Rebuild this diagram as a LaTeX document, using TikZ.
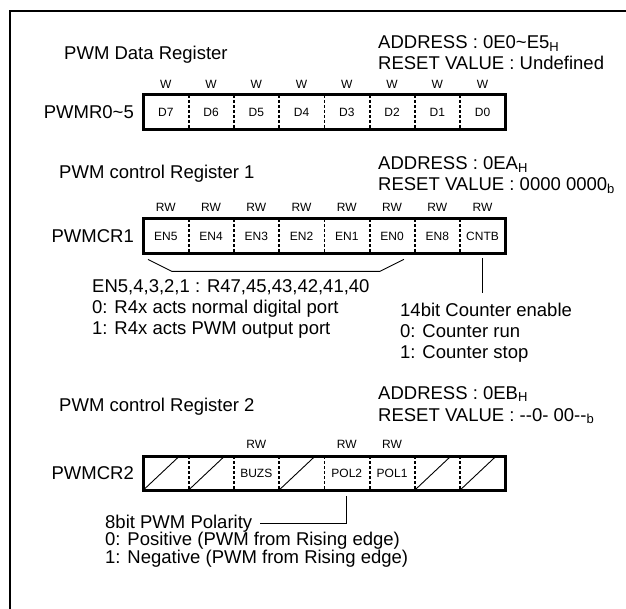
\documentclass[tikz,border=0pt]{standalone}
\usepackage{fontspec}
\setmainfont{Liberation Sans}
\usetikzlibrary{calc}
\tikzset{
  bigtext/.style={font=\fontsize{18.5}{21}\selectfont, inner sep=0pt, anchor=base west},
  smalltext/.style={font=\fontsize{12}{14}\selectfont, inner sep=0pt},
  cell/.style={smalltext, minimum width=45.25pt, minimum height=34pt, anchor=north west},
  regbox/.style={line width=3pt},
  bitsep/.style={line width=1.8pt, dash pattern=on 3pt off 2pt},
  thinline/.style={line width=0.9pt}
}
\newcommand{\regsub}[1]{\raisebox{-0.3ex}{\fontsize{13}{13}\selectfont #1}}
\begin{document}
\begin{tikzpicture}[x=1pt,y=-1pt]
\useasboundingbox (0,0) rectangle (626,609);
\draw[line width=2.5pt] (10,612) -- (10,11) -- (629,11);
% PWM data register
\node[bigtext] (title1) at (64,59.5) {PWM Data Register};
\node[bigtext] (addr1) at (378,48.5) {ADDRESS : 0E0\textasciitilde E5\regsub{H}};
\node[bigtext] (reset1) at (378,69.5) {RESET VALUE : Undefined};
\foreach \t [count=\k from 0] in {D7,D6,D5,D4,D3,D2,D1,D0} {
  \node[cell] (r1c\k) at (143+45.25*\k,95) {\t};
  \node[smalltext, anchor=base] (r1w\k) at ($(r1c\k.north)+(0,-6.7)$) {W};
}
\foreach \k in {0,...,6} \draw[bitsep] (r1c\k.north east) -- (r1c\k.south east);
\draw[regbox] (r1c0.north west) rectangle (r1c7.south east);
\node[bigtext, anchor=base east] (reg1) at (134,118.5) {PWMR0\textasciitilde 5};
% PWM control register 1
\node[bigtext] (title2) at (59,178.5) {PWM control Register 1};
\node[bigtext] (addr2) at (378,169.5) {ADDRESS : 0EA\regsub{H}};
\node[bigtext] (reset2) at (378,190.5) {RESET VALUE : 0000 0000\regsub{b}};
\foreach \t [count=\k from 0] in {EN5,EN4,EN3,EN2,EN1,EN0,EN8,CNTB} {
  \node[cell] (r2c\k) at (143+45.25*\k,219) {\t};
  \node[smalltext, anchor=base] (r2w\k) at ($(r2c\k.north)+(0,-7.7)$) {RW};
}
\foreach \k in {0,...,6} \draw[bitsep] (r2c\k.north east) -- (r2c\k.south east);
\draw[regbox] (r2c0.north west) rectangle (r2c7.south east);
\node[bigtext, anchor=base east] (reg2) at (134,242.5) {PWMCR1};
\draw[thinline] ([xshift=5pt,yshift=-6pt]r2c0.south west) -- ([xshift=29pt,yshift=-18pt]r2c0.south west)
  -- ([xshift=-35pt,yshift=-18pt]r2c5.south east) -- ([xshift=-11pt,yshift=-6pt]r2c5.south east);
\node[bigtext, align=left, anchor=north west] (enpins) at (92,279) {EN5,4,3,2,1 : R47,45,43,42,41,40\\0: R4x acts normal digital port\\1: R4x acts PWM output port};
\coordinate (cntbend) at ([yshift=-40pt]r2c7.south);
\draw[thinline] ([yshift=-5pt]r2c7.south) -- (cntbend);
\node[bigtext, align=left, anchor=north west] (counter) at (400,303) {14bit Counter enable\\0: Counter run\\1: Counter stop};
% PWM control register 2
\node[bigtext] (title3) at (59,411.5) {PWM control Register 2};
\node[bigtext] (addr3) at (378,399) {ADDRESS : 0EB\regsub{H}};
\node[bigtext] (reset3) at (378,421) {RESET VALUE : -\kern0pt-0- 00-\kern0pt-\regsub{b}};
\foreach \t [count=\k from 0] in {,,BUZS,,POL2,POL1,,} {
  \node[cell] (r3c\k) at (143+45.25*\k,456) {\t};
}
\foreach \k in {2,4,5} \node[smalltext, anchor=base] (r3w\k) at ($(r3c\k.north)+(0,-7.7)$) {RW};
\foreach \k in {0,1,3,6,7} \draw[thinline] (r3c\k.south west) -- ($(r3c\k.north west)!0.8!(r3c\k.north east)$);
\foreach \k in {0,...,6} \draw[bitsep] (r3c\k.north east) -- (r3c\k.south east);
\draw[regbox] (r3c0.north west) rectangle (r3c7.south east);
\node[bigtext, anchor=base east] (reg3) at (134,479.5) {PWMCR2};
\node[bigtext] (pol) at (105,528.5) {8bit PWM Polarity};
\draw[thinline] ([yshift=-6pt]r3c4.south) |- ([xshift=8pt]pol.east);
\node[bigtext, font=\fontsize{18.5}{17.5}\selectfont, align=left, anchor=north west] (polval) at (105,532) {0: Positive (PWM from Rising edge)\\1: Negative (PWM from Rising edge)};
\end{tikzpicture}
\end{document}
